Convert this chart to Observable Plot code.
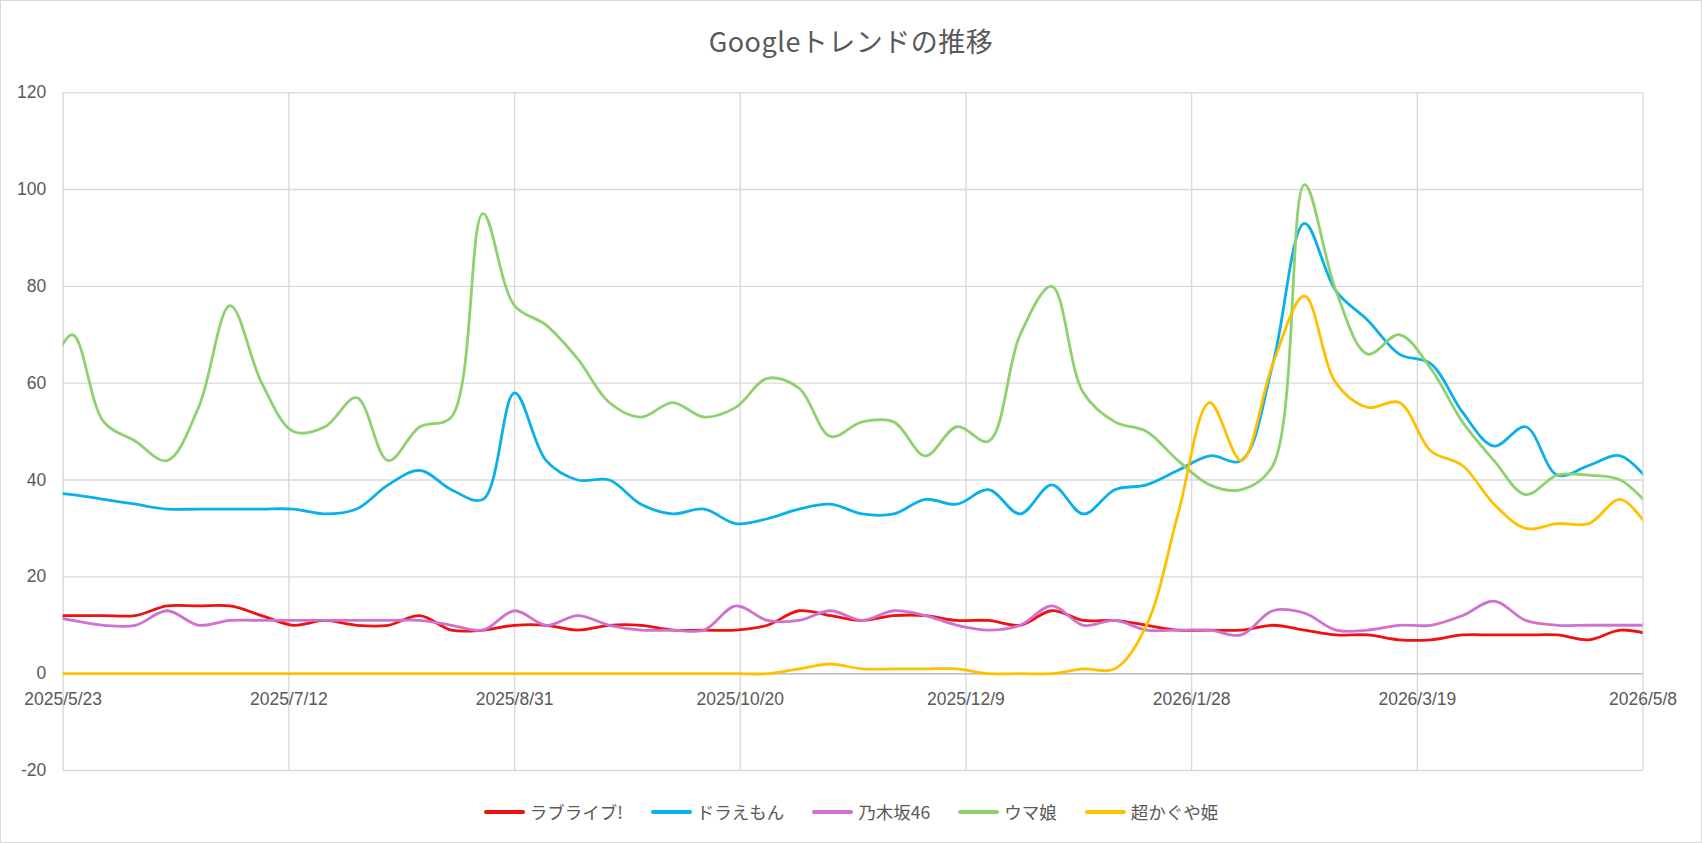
<!DOCTYPE html>
<html><head><meta charset="utf-8">
<script src="https://cdn.jsdelivr.net/npm/d3@7"></script>
<script src="https://cdn.jsdelivr.net/npm/@observablehq/plot@0.6"></script>
<style>
body{margin:0;background:#fff;}
#wrap{position:relative;width:1702px;height:843px;box-sizing:border-box;border:1px solid #d9d9d9;overflow:hidden;background:#fff;}
#chart{position:absolute;left:-1px;top:-1px;z-index:0;}
#title{position:absolute;left:0;right:0;top:25px;line-height:30px;text-align:center;font-family:"Noto Sans CJK JP";font-size:27px;letter-spacing:0.5px;color:#595959;z-index:2;}
#legend{position:absolute;left:0;right:0;top:799px;line-height:24px;display:flex;justify-content:center;gap:28px;font-family:"Noto Sans CJK JP";font-size:17.5px;color:#595959;z-index:2;}
.item{display:flex;align-items:center;gap:5px;}
.sw{width:41px;height:4px;border-radius:2px;}
</style></head><body>
<div id="wrap"><div id="chart"></div><div id="title">Googleトレンドの推移</div><div id="legend"></div></div>
<script>
const weeks = [
  "2025-05-18","2025-05-25","2025-06-01","2025-06-08","2025-06-15","2025-06-22","2025-06-29",
  "2025-07-06","2025-07-13","2025-07-20","2025-07-27","2025-08-03","2025-08-10","2025-08-17",
  "2025-08-24","2025-08-31","2025-09-07","2025-09-14","2025-09-21","2025-09-28","2025-10-05",
  "2025-10-12","2025-10-19","2025-10-26","2025-11-02","2025-11-09","2025-11-16","2025-11-23",
  "2025-11-30","2025-12-07","2025-12-14","2025-12-21","2025-12-28","2026-01-04","2026-01-11",
  "2026-01-18","2026-01-25","2026-02-01","2026-02-08","2026-02-15","2026-02-22","2026-03-01",
  "2026-03-08","2026-03-15","2026-03-22","2026-03-29","2026-04-05","2026-04-12","2026-04-19",
  "2026-04-26","2026-05-03","2026-05-10"
];
const loveLive = [12,12,12,12,14,14,14,12,10,11,10,10,12,9,9,10,10,9,10,10,9,9,9,10,13,12,11,12,12,11,11,10,13,11,11,10,9,9,9,10,9,8,8,7,7,8,8,8,8,7,9,8];
const doraemon = [37.5,37,36,35,34,34,34,34,34,33,34,39,42,38,36,58,44,40,40,35,33,34,31,32,34,35,33,33,36,35,38,33,39,33,38,39,42,45,44,64,93,79,73,66,64,54,47,51,41,43,45,39];
const nogizaka = [12.5,11,10,10,13,10,11,11,11,11,11,11,11,10,9,13,10,12,10,9,9,9,14,11,11,13,11,13,12,10,9,10,14,10,11,9,9,9,8,13,12.5,9,9,10,10,12,15,11,10,10,10,10];
const umamusume = [58,70,52,48,44,55,76,60,50,51,57,44,51,53,95,76,72,65,56,53,56,53,55,61,59,49,52,52,45,51,48,70,80,58,52,50,44,39,38,43,101,79,66,70,63,52,44,37,41,41,40,34];
const kaguya = [0,0,0,0,0,0,0,0,0,0,0,0,0,0,0,0,0,0,0,0,0,0,0,0,1,2,1,1,1,1,0,0,0,1,1,10,33,56,44,64,78,60,55,56,46,43,35,30,31,31,36,29];

const seriesNames = ["ラブライブ!","ドラえもん","乃木坂46","ウマ娘","超かぐや姫"];
const seriesValues = [loveLive, doraemon, nogizaka, umamusume, kaguya];
const seriesColors = ["#ee1111","#0ab0ea","#cf72cf","#8fd16f","#ffc000"];
const tickDates = ["2025-05-23","2025-07-12","2025-08-31","2025-10-20","2025-12-09","2026-01-28","2026-03-19","2026-05-08"];
const tickLabels = ["2025/5/23","2025/7/12","2025/8/31","2025/10/20","2025/12/9","2026/1/28","2026/3/19","2026/5/8"];
const yTicks = [-20,0,20,40,60,80,100,120];

const dates = weeks.map(d => new Date(d));
const tickRows = tickDates.map((d, i) => ({date: new Date(d), label: tickLabels[i]}));

const lineMarks = seriesNames.map((name, s) =>
  Plot.line(seriesValues[s].map((v, i) => ({date: dates[i], value: v})), {
    x: "date", y: "value", stroke: seriesColors[s], strokeWidth: 2.8,
    curve: "catmull-rom", clip: true, strokeLinecap: "round", strokeLinejoin: "round"
  })
);

const W = 1702, H = 800;
const chart = Plot.plot({
  width: W, height: H,
  marginLeft: 62.7, marginRight: W - 1643.5, marginTop: 92.2, marginBottom: H - 770.5,
  x: {type: "utc", domain: [new Date(tickDates[0]), new Date(tickDates[tickDates.length - 1])], axis: null},
  y: {domain: [-20, 120], axis: null},
  style: {fontFamily: "Liberation Sans", fontSize: "17.5px", color: "#595959", background: "white", overflow: "visible"},
  marks: [
    Plot.ruleY(yTicks, {stroke: "#d9d9d9", strokeWidth: 1.4}),
    Plot.ruleX(tickRows, {x: "date", stroke: "#d9d9d9", strokeWidth: 1.4}),
    Plot.ruleY([0], {stroke: "#bfbfbf", strokeWidth: 1.4}),
    Plot.axisY({ticks: yTicks, label: null, tickSize: 0, tickPadding: 17, tickFormat: d => String(d), fill: "#595959", fontSize: 17.5}),
    ...lineMarks,
    Plot.text(tickRows, {x: "date", y: () => 0, text: "label", dy: 26, fill: "#595959", fontSize: 17.5, textAnchor: "middle"})
  ]
});
document.getElementById("chart").appendChild(chart);

const legend = document.getElementById("legend");
seriesNames.forEach((name, s) => {
  const item = document.createElement("div");
  item.className = "item";
  const sw = document.createElement("span");
  sw.className = "sw";
  sw.style.background = seriesColors[s];
  const label = document.createElement("span");
  label.textContent = name;
  item.appendChild(sw);
  item.appendChild(label);
  legend.appendChild(item);
});
</script>
</body></html>
